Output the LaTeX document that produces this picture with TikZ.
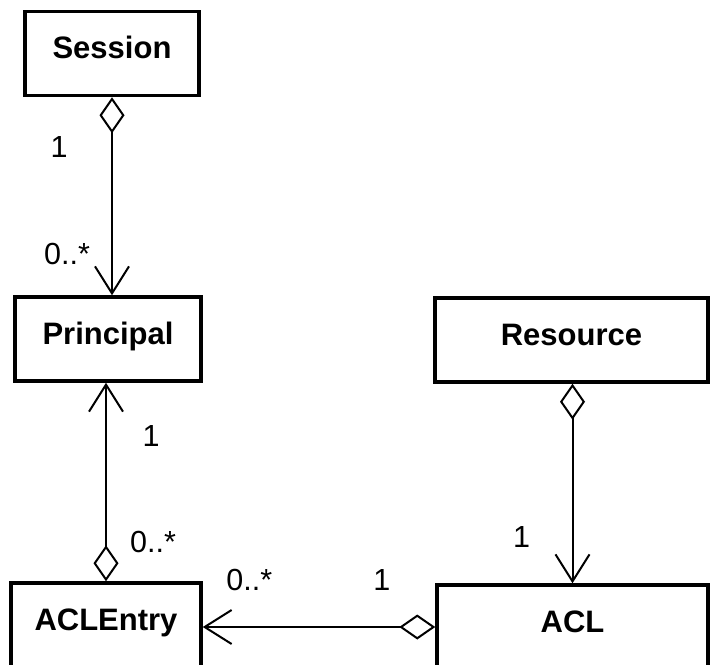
\documentclass[tikz,border=0pt]{standalone}
\usepackage{fontspec}
\setmainfont{Liberation Sans}
\usetikzlibrary{arrows.meta}

\tikzset{
  umlclass/.style={draw, line width=3.5pt, inner sep=0pt, minimum height=84pt,
    text height=22pt, text depth=12pt, font=\bfseries\fontsize{31}{36}\selectfont},
  mult/.style={inner sep=0pt, font=\fontsize{30.5}{36}\selectfont},
  aggr/.style={line width=2pt,
    {Diamond[open,length=36pt,width=25pt]}-{Straight Barb[length=27pt,width=34pt]}}
}

\begin{document}
\begin{tikzpicture}[x=1pt,y=-1pt]
      \useasboundingbox (0,0) rectangle (711,664);

      \node[umlclass, minimum width=174pt] (session) at (112,53.5) {Session};
      \node[umlclass, minimum width=186pt] (principal) at (108,339) {Principal};
      \node[umlclass, minimum width=273pt] (resource) at (571.5,340) {Resource};
      \node[umlclass, minimum width=190pt] (entry) at (106,625) {ACLEntry};
      \node[umlclass, minimum width=271pt] (acl) at (572.5,627) {ACL};

       \path[aggr]
          (session.south) edge
             node[mult, pos=0.25, xshift=-53pt] {1}
             node[mult, pos=0.79, xshift=-45pt] {0..*}
          (session.south |- principal.north)
          (entry.north) edge
             node[mult, pos=0.2, xshift=47pt] {0..*}
             node[mult, pos=0.73, xshift=45pt] {1}
          (entry.north |- principal.south)
          (acl.north |- resource.south) edge
             node[mult, pos=0.77, xshift=-51pt] {1}
          (acl.north)
          (acl.west) edge
             node[mult, pos=0.23, yshift=47pt] {1}
             node[mult, pos=0.8, yshift=47pt] {0..*}
          (acl.west -| entry.east)
      ;
  \end{tikzpicture}
\end{document}
